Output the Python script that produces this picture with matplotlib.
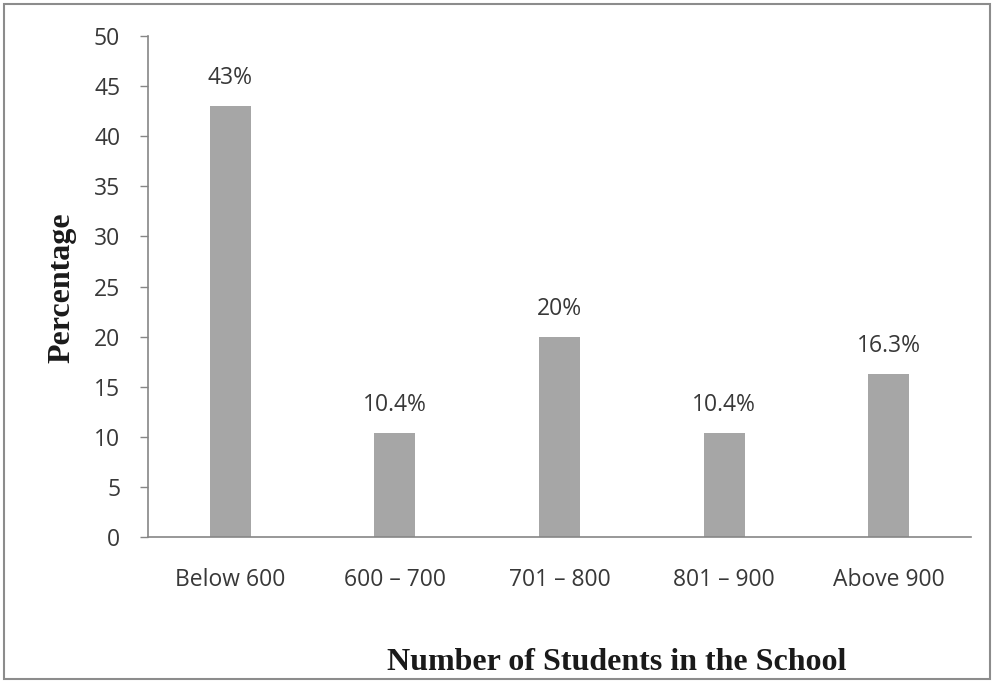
import matplotlib
matplotlib.use("Agg")
import matplotlib.pyplot as plt
from matplotlib.patches import Rectangle

categories = ["Below 600", "600 \u2013 700", "701 \u2013 800", "801 \u2013 900", "Above 900"]
values = [43, 10.4, 20, 10.4, 16.3]
labels = ["43%", "10.4%", "20%", "10.4%", "16.3%"]
yticks = [0, 5, 10, 15, 20, 25, 30, 35, 40, 45, 50]

fig = plt.figure(figsize=(9.96, 6.83), dpi=100)
ax = fig.add_axes([148/996, 1-537/683, (971-148)/996, (537-36)/683])

x = range(len(categories))
ax.bar(x, values, width=0.25, color="#a6a6a6", zorder=2)
for xi, v, lab in zip(x, values, labels):
    ax.text(xi, v + 1.6, lab, ha="center", va="bottom", fontsize=16.5,
            family="Open Sans", color="#383838")

ax.set_xlim(-0.5, 4.5)
ax.set_ylim(0, 50)
ax.set_yticks(yticks)
ax.set_xticks(list(x))
ax.set_xticklabels(categories, family="Open Sans", fontsize=16.5, color="#383838")
for t in ax.get_yticklabels():
    t.set_family("Open Sans"); t.set_fontsize(16.5); t.set_color("#383838")
ax.tick_params(axis="y", length=6, width=1, color="#868686", pad=14)
ax.tick_params(axis="x", length=0, pad=22)
for s in ["top", "right"]:
    ax.spines[s].set_visible(False)
ax.spines["left"].set_color("#868686")
ax.spines["bottom"].set_color("#868686")
ax.spines["left"].set_linewidth(1.2)
ax.spines["bottom"].set_linewidth(1.2)

fig.text(617/996, 1-662/683, "Number of Students in the School", ha="center", va="center",
         family="Liberation Serif", fontweight="bold", fontsize=23, color="#1a1a1a")
fig.text(62/996, 1-288/683, "Percentage", ha="center", va="center", rotation=90,
         family="Liberation Serif", fontweight="bold", fontsize=23, color="#1a1a1a")

fig.patches.append(Rectangle((4/996, 4/683), 986/996, 675/683, transform=fig.transFigure,
                             fill=False, edgecolor="#8c8c8c", linewidth=1.5))

fig.savefig("out.png", dpi=100)
